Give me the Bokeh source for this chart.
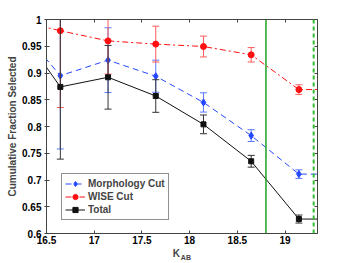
from bokeh.plotting import figure
from bokeh.models import (ColumnDataSource, Range1d, FixedTicker, LinearAxis, Span,
                          Legend, LegendItem)
from bokeh.embed import file_html
from bokeh.resources import INLINE

# ---- data ----
k_bins = [16.645, 17.145, 17.645, 18.145, 18.645, 19.145]
k_start = 16.145
k_end = 19.645
start_value = 1.0

morph_vals = [0.895, 0.924, 0.894, 0.845, 0.783, 0.711]
morph_err = [0.137, 0.0605, 0.030, 0.018, 0.011, 0.008]
wise_vals = [0.979, 0.960, 0.954, 0.9495, 0.934, 0.869]
wise_err = [0.1435, 0.062, 0.0335, 0.0195, 0.0135, 0.009]
total_vals = [0.874, 0.892, 0.857, 0.804, 0.735, 0.627]
total_err = [0.135, 0.0595, 0.0305, 0.0175, 0.011, 0.0075]

k_limit_solid = 18.8
k_limit_dashed = 19.3

x_ticks = [16.5, 17.0, 17.5, 18.0, 18.5, 19.0]
x_tick_labels = ["16.5", "17", "17.5", "18", "18.5", "19"]
y_ticks = [0.6, 0.65, 0.7, 0.75, 0.8, 0.85, 0.9, 0.95, 1.0]
y_tick_labels = ["0.6", "0.65", "0.7", "0.75", "0.8", "0.85", "0.9", "0.95", "1"]

series_names = ["Morphology Cut", "WISE Cut", "Total"]
x_label_main = "K"
x_label_sub = "AB"
y_label = "Cumulative Fraction Selected"

FONT = "Liberation Sans"
AXCOL = "#444444"
NBSP = "\u00a0"

p = figure(width=350, height=263, output_backend="svg", toolbar_location=None,
           x_range=Range1d(16.5, 19.34), y_range=Range1d(0.6, 1.0),
           min_border_left=46, min_border_right=33, min_border_top=19,
           min_border_bottom=30)
p.grid.visible = False
p.outline_line_color = AXCOL
p.background_fill_color = "white"
p.border_fill_color = "white"

def style_axis(ax, ticks, labels, tick_out=0):
    ax.ticker = FixedTicker(ticks=ticks)
    ax.major_label_overrides = {t: l for t, l in zip(ticks, labels)}
    ax.minor_tick_line_color = None
    ax.major_tick_in = 3
    ax.major_tick_out = tick_out
    ax.axis_line_color = AXCOL
    ax.major_tick_line_color = AXCOL
    ax.major_label_text_font = FONT
    ax.major_label_text_font_style = "bold"
    ax.major_label_text_font_size = "10px"
    ax.major_label_text_color = "black"
    ax.major_label_standoff = 3

def mirror_axis(ticks):
    # axis with tick marks only (minor ticks carry no labels)
    ax = LinearAxis(ticker=FixedTicker(ticks=[], minor_ticks=ticks))
    ax.major_tick_line_color = None
    ax.minor_tick_line_color = AXCOL
    ax.minor_tick_in = 3
    ax.minor_tick_out = 0
    ax.axis_line_color = AXCOL
    ax.major_label_standoff = 0
    return ax

style_axis(p.xaxis[0], x_ticks, x_tick_labels, 0)
p.xaxis[0].major_label_standoff = 2
p.xaxis[0].axis_label = x_label_main + NBSP * 4
p.xaxis[0].axis_label_text_font = FONT
p.xaxis[0].axis_label_text_font_size = "10px"
p.xaxis[0].axis_label_text_font_style = "bold"
p.xaxis[0].axis_label_standoff = 1

style_axis(p.yaxis[0], y_ticks, y_tick_labels, 2)
p.yaxis[0].axis_label = y_label
p.yaxis[0].axis_label_text_font = FONT
p.yaxis[0].axis_label_text_font_size = "10px"
p.yaxis[0].axis_label_text_font_style = "bold"
p.yaxis[0].axis_label_standoff = 1

# subscript axis label below
sub_ax = LinearAxis(ticker=FixedTicker(ticks=[]))
sub_ax.major_tick_line_color = None
sub_ax.minor_tick_line_color = None
sub_ax.axis_line_color = None
sub_ax.major_label_standoff = 0
sub_ax.axis_label = NBSP * 4 + x_label_sub
sub_ax.axis_label_text_font = FONT
sub_ax.axis_label_text_font_size = "7px"
sub_ax.axis_label_text_font_style = "bold"
sub_ax.axis_label_standoff = -8
p.add_layout(sub_ax, "below")

p.add_layout(mirror_axis(x_ticks), "above")
p.add_layout(mirror_axis(y_ticks), "right")

# limit lines
p.add_layout(Span(location=k_limit_solid, dimension="height", line_color="#1fa01f", line_width=1.5))
p.add_layout(Span(location=k_limit_dashed, dimension="height", line_color="#33bb33",
                  line_width=2, line_dash="4 3"))

series = [
    (morph_vals, morph_err, "#2448ff", "#5a78ff", "6 4", "diamond", 7),
    (wise_vals, wise_err, "#ff1010", "#ff5a5a", "6 3 2 3", "circle", 6),
    (total_vals, total_err, "#111111", "#333333", "solid", "square", 5),
]

items = []
for name, (vals, errs, col, ecol, dash, marker, msize) in zip(series_names, series):
    lx = [k_start] + k_bins + [k_end]
    ly = [start_value] + vals + [vals[-1]]
    upper = [v + e for v, e in zip(vals, errs)]
    lower = [v - e for v, e in zip(vals, errs)]
    src = ColumnDataSource(dict(x=k_bins, y=vals, up=upper, lo=lower))
    line_r = p.line(lx, ly, line_color=col, line_width=1, line_dash=dash)
    p.segment(x0="x", y0="lo", x1="x", y1="up", source=src, line_color=ecol, line_width=1)
    p.scatter(x="x", y="up", source=src, marker="dash", size=7, line_color=ecol, line_width=1)
    p.scatter(x="x", y="lo", source=src, marker="dash", size=7, line_color=ecol, line_width=1)
    mark_r = p.scatter(x="x", y="y", source=src, marker=marker, size=msize,
                       fill_color=col, line_color=col)
    items.append(LegendItem(label=name, renderers=[line_r, mark_r]))

legend = Legend(items=items, location=(15, 13), margin=0, padding=3, spacing=0,
                label_height=13, glyph_height=13, glyph_width=20, label_standoff=3,
                label_text_font=FONT, label_text_font_size="10px",
                label_text_font_style="bold", border_line_color="#222222",
                border_line_width=1, background_fill_color="white", background_fill_alpha=1)
p.add_layout(legend, "center")

open("out.html", "w").write(file_html(p, INLINE))
